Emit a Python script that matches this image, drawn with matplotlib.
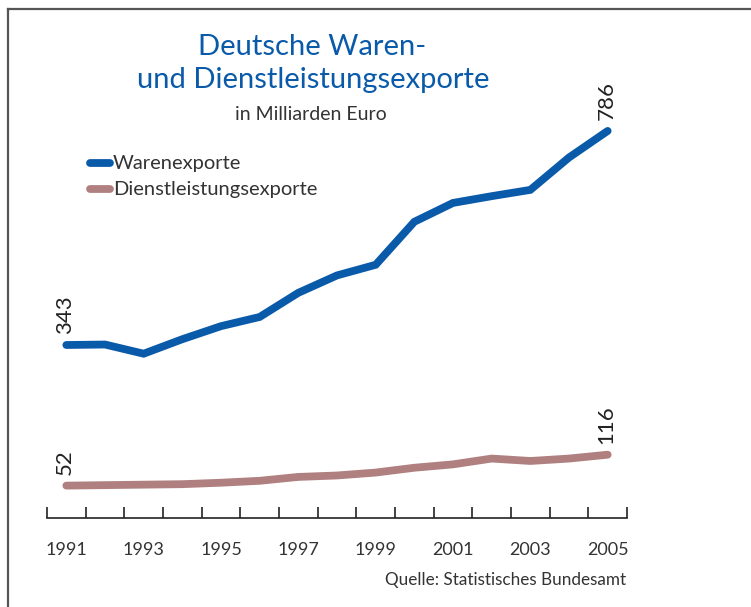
import matplotlib.pyplot as plt
from matplotlib.lines import Line2D

years = list(range(1991, 2006))
waren = [343, 344, 325, 355, 382, 401, 451, 487, 509, 598, 637, 651, 664, 731, 786]
dienst = [52, 53, 54, 55, 58, 62, 70, 73, 79, 89, 96, 108, 103, 108, 116]
label_years = [1991, 1993, 1995, 1997, 1999, 2001, 2003, 2005]

BLUE = "#0a5aaa"
MAUVE = "#b08080"
TEXT = "#333333"
FONT = "Lato"

W, H = 751, 607
fig = plt.figure(figsize=(W / 100, H / 100), dpi=100)

# -----------------------
# frame (top + left only)
# -----------------------
fig.add_artist(Line2D([8 / W, 8 / W], [0, 1 - 9 / H], color="#555555", lw=1.6))
fig.add_artist(Line2D([8 / W, 1], [1 - 9 / H, 1 - 9 / H], color="#555555", lw=1.6))

# -----------------------
# axes
# -----------------------
left, right = 47 / W, 627 / W
bottom, top = 1 - 518 / H, 1 - 100 / H
ax = fig.add_axes([left, bottom, right - left, top - bottom])
ax.set_xlim(1990.5, 2005.5)
ax.set_ylim(-15, 850)

ax.plot(years, waren, color=BLUE, lw=5.6, solid_capstyle="round",
        solid_joinstyle="miter")
ax.plot(years, dienst, color=MAUVE, lw=5.6, solid_capstyle="round",
        solid_joinstyle="miter")

for sp in ["top", "right", "left"]:
    ax.spines[sp].set_visible(False)
ax.spines["bottom"].set_color("#222222")
ax.spines["bottom"].set_linewidth(1.2)
ax.set_yticks([])

ax.set_xticks([y - 0.5 for y in years] + [2005.5])
ax.set_xticklabels([])
ax.tick_params(axis="x", which="major", direction="in", length=8,
               width=1.2, color="#222222")
ax.set_xticks(label_years, minor=True)
ax.set_xticklabels([str(y) for y in label_years], minor=True)
ax.tick_params(axis="x", which="minor", length=0, pad=17, labelsize=13,
               labelcolor=TEXT)
for t in ax.get_xticklabels(minor=True):
    t.set_fontfamily(FONT)

# value labels
for x, y, s in [(years[0], waren[0], "343"), (years[-1], waren[-1], "786"),
                (years[0], dienst[0], "52"), (years[-1], dienst[-1], "116")]:
    ax.annotate(s, (x, y), xytext=(-1, 8), textcoords="offset points",
                rotation=90, ha="center", va="bottom", fontsize=16,
                family=FONT, color="#222222")

# -----------------------
# titles, legend, source
# -----------------------
fig.text(312 / W, 1 - 47 / H, "Deutsche Waren-", ha="center", va="center",
         fontsize=21, color=BLUE, family=FONT)
fig.text(313 / W, 1 - 80 / H, "und Dienstleistungsexporte", ha="center",
         va="center", fontsize=21, color=BLUE, family=FONT)
fig.text(311 / W, 1 - 115 / H, "in Milliarden Euro", ha="center", va="center",
         fontsize=14, color=TEXT, family=FONT)

for i, (name, col) in enumerate([("Warenexporte", BLUE),
                                  ("Dienstleistungsexporte", MAUVE)]):
    yy = 1 - (163 + 26 * i) / H
    fig.add_artist(Line2D([90 / W, 110 / W], [yy, yy], color=col, lw=5.6,
                          solid_capstyle="round"))
    fig.text(113 / W, yy, name, ha="left", va="center", fontsize=14.5,
             color=TEXT, family=FONT)

fig.text(626 / W, 1 - 580 / H, "Quelle: Statistisches Bundesamt", ha="right",
         va="center", fontsize=12.3, color=TEXT, family=FONT)

fig.savefig("out.png", dpi=100)
